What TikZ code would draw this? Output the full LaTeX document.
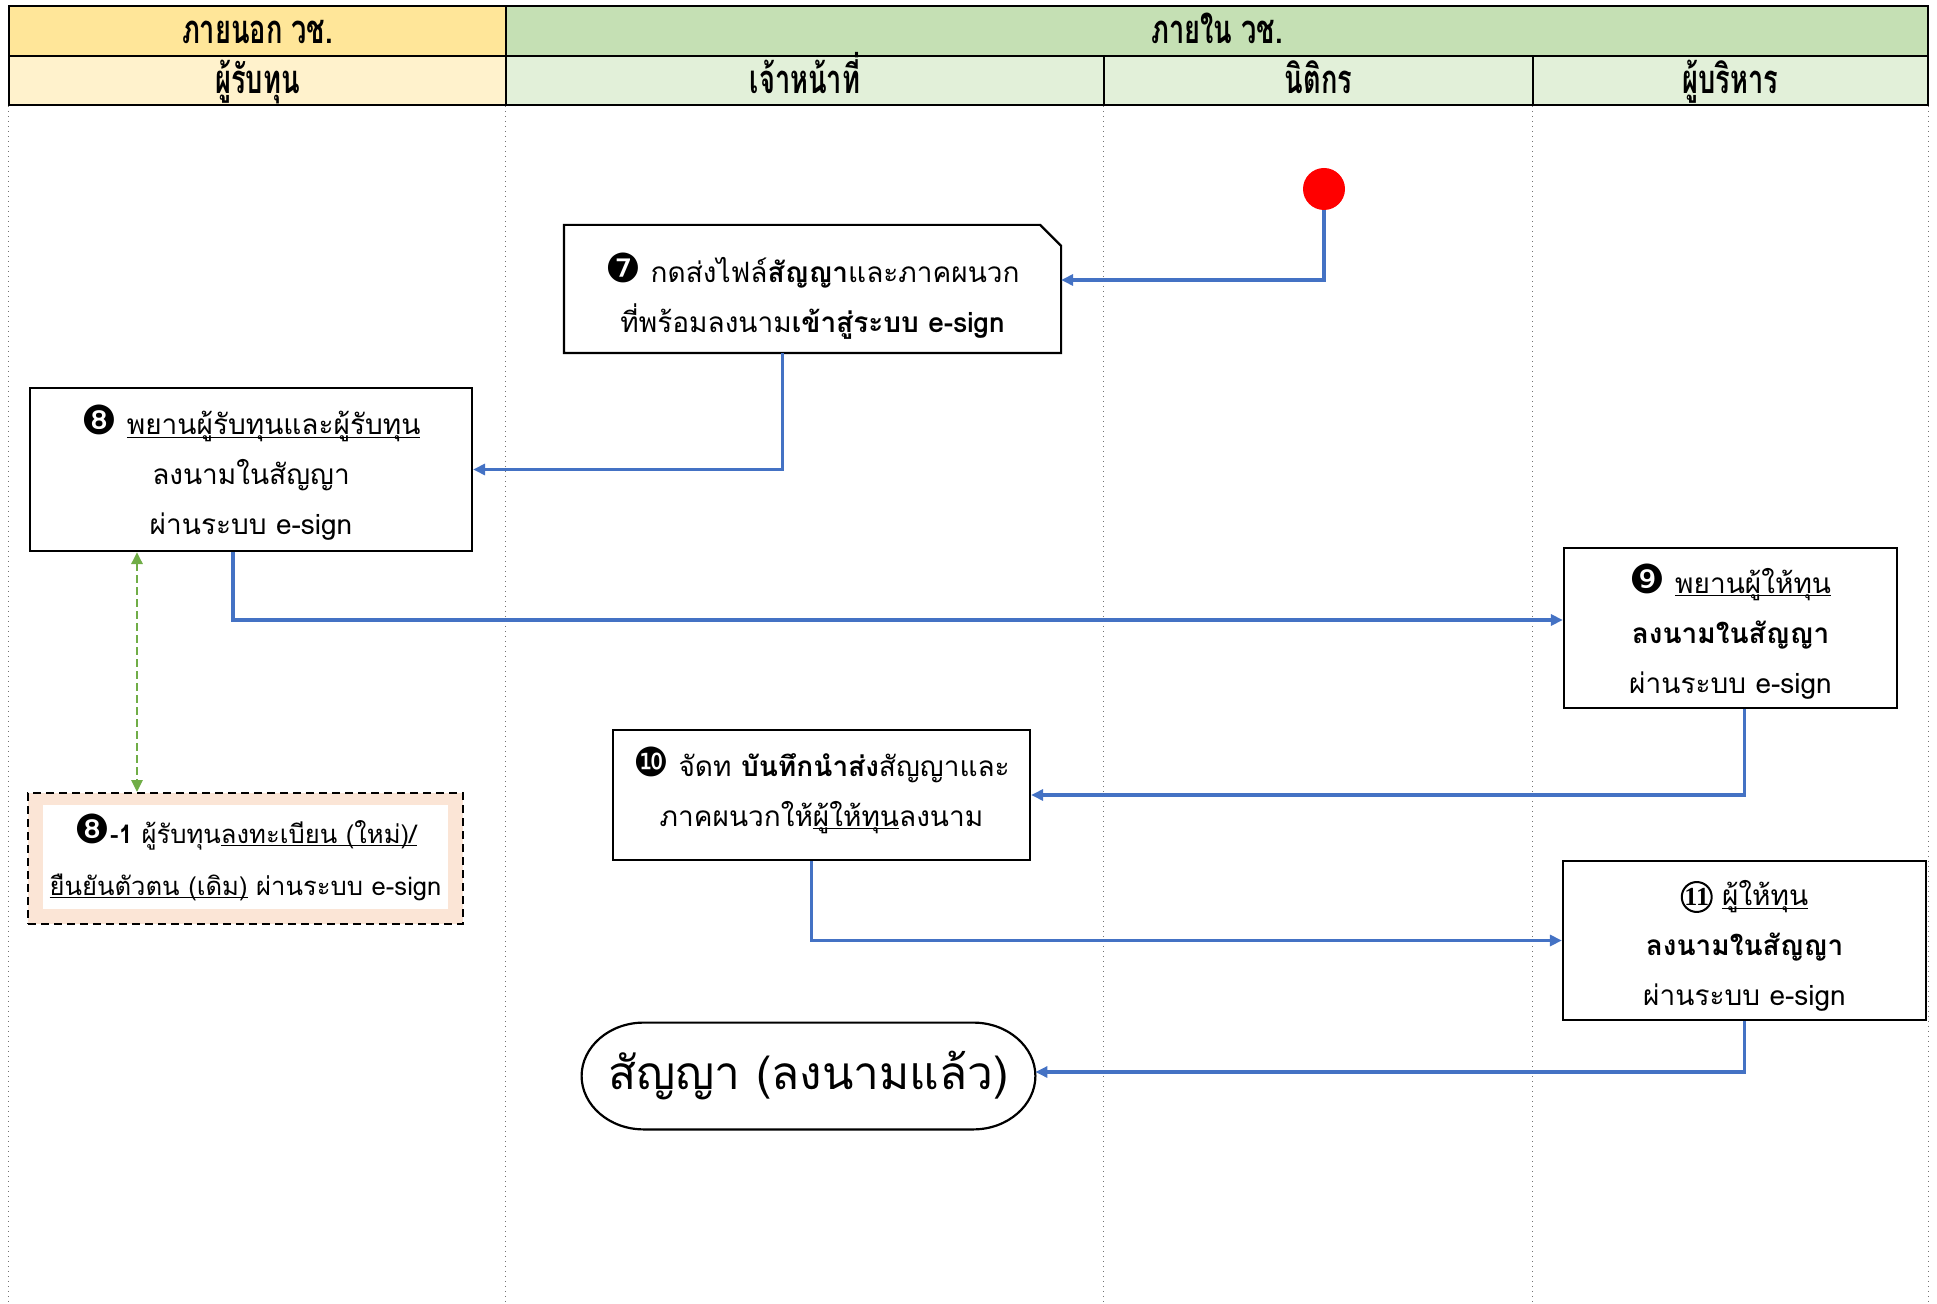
\documentclass[tikz,border=0pt]{standalone}
\usepackage{fontspec}
\setmainfont[Script=Thai]{Loma}
\newfontfamily\headfont[Script=Thai, FakeStretch=0.68]{Loma}
\newfontfamily\symfont{DejaVu Sans}
\newfontfamily\numfont{Liberation Serif}
\usepackage{tikz}
\usetikzlibrary{
    arrows.meta,
    positioning,
    calc
}
\definecolor{Hyel}{RGB}{255, 230, 153}
\definecolor{Hyellt}{RGB}{255, 242, 204}
\definecolor{Hgrn}{RGB}{197, 224, 180}
\definecolor{Hgrnlt}{RGB}{226, 240, 217}
\definecolor{Fblue}{RGB}{68, 114, 196}
\definecolor{Fgreen}{RGB}{112, 173, 71}
\definecolor{Fpeach}{RGB}{251, 229, 214}
\newcommand{\stepnum}[1]{{\symfont\fontsize{20}{24}\selectfont #1}}
\newcommand{\circnum}[1]{\tikz[baseline=(cn.base)]\node [circle, draw=black,
    line width=1pt, inner sep=0pt, minimum size=14.5pt,
    font=\numfont\fontsize{13}{13}\selectfont\bfseries] (cn) {#1};}
\newsavebox\ulbox
\newcommand{\uln}[1]{\sbox\ulbox{#1}\rlap{\rule[-1.6pt]{\wd\ulbox}{0.6pt}}\usebox\ulbox}
\newcommand{\tstrut}[1][18pt]{\rule{0pt}{#1}}
\newcommand{\bstrut}[1][8.5pt]{\rule[-#1]{0pt}{1pt}}
\tikzset{
    hcell/.style={
        rectangle, draw=black, line width=0.9pt, inner sep=0pt,
        text height=16pt, text depth=3.4pt,
        font=\headfont\fontsize{20}{22}\selectfont\bfseries, text=black
    },
    lane/.style={draw=black!55, line width=0.5pt, dotted},
    sbox/.style={
        rectangle, draw=black, line width=1.1pt, fill=white, text=black,
        align=center, font=\fontsize{14}{25}\selectfont, inner sep=3pt
    },
    boxline/.style={draw=black, line width=1.1pt},
    sframe/.style={
        rectangle, draw=black, line width=1pt, fill=Fpeach,
        dash pattern=on 4pt off 2.5pt, inner sep=0pt
    },
    sterm/.style={
        rectangle, draw=none, font=\fontsize{23}{28}\selectfont, inner sep=4pt
    },
    startdot/.style={circle, fill=red, minimum size=21pt, inner sep=0pt},
    flow/.style={-{Triangle[length=6pt, width=5.5pt]}, line width=1.7pt, Fblue},
    link/.style={{Triangle[length=6pt, width=5.5pt]}-{Triangle[length=6pt, width=5.5pt]},
        line width=1.4pt, Fgreen, dash pattern=on 4pt off 2pt},
}

\begin{document}
\begin{tikzpicture}[x=0.5pt, y=-0.5pt]
    \useasboundingbox (0,0) rectangle (1937,1304);

    % ── header ──────────────────────────────────────────
    \node [hcell, fill=Hyel, minimum width=248.5pt, minimum height=25pt]
        (hout) at (257.5,31) {ภายนอก วช.};
    \node [hcell, fill=Hgrn, minimum width=711pt, minimum height=25pt]
        (hin) at (1217,31) {ภายใน วช.};
    \node [hcell, fill=Hyellt, minimum width=248.5pt, minimum height=24.5pt]
        (lgrantee) at (257.5,80.5) {ผู้รับทุน};
    \node [hcell, fill=Hgrnlt, minimum width=299pt, minimum height=24.5pt]
        (lstaff) at (805,80.5) {เจ้าหน้าที่};
    \node [hcell, fill=Hgrnlt, minimum width=214.5pt, minimum height=24.5pt]
        (llegal) at (1318.5,80.5) {นิติกร};
    \node [hcell, fill=Hgrnlt, minimum width=197.5pt, minimum height=24.5pt]
        (lexec) at (1730.5,80.5) {ผู้บริหาร};

    % ── lanes ───────────────────────────────────────────
    \draw [lane] (lgrantee.south west) -- ++(0,1199);
    \draw [lane] (lstaff.south west) -- ++(0,1199);
    \draw [lane] (llegal.south west) -- ++(0,1199);
    \draw [lane] (lexec.south west) -- ++(0,1199);
    \draw [lane] (lexec.south east) -- ++(0,1199);

    % ── steps ───────────────────────────────────────────
    \node [startdot] (start) at (1324,189) {};

    \node [sbox, draw=none, minimum width=247.5pt, minimum height=63pt]
        (s7) at (812.5,289)
        {\tstrut[22pt]\stepnum{❼} กดส่งไฟล์\textbf{สัญญา}และภาคผนวก \\ ที่พร้อมลงนาม\textbf{เข้าสู่ระบบ e-sign}};
    \draw [boxline] (s7.south west) -- (s7.north west) -- ([xshift=-10.5pt]s7.north east)
        -- ([yshift=-10.5pt]s7.north east) -- (s7.south east) -- cycle;

    \node [sbox, minimum width=221pt, minimum height=81.5pt]
        (s8) at (251,469.5)
        {\tstrut\stepnum{❽} \uln{พยานผู้รับทุนและผู้รับทุน} \\ ลงนามในสัญญา \\ ผ่านระบบ e-sign};

    \node [sbox, minimum width=166.5pt, minimum height=80pt]
        (s9) at (1730.5,628)
        {\tstrut\stepnum{❾} \uln{พยานผู้ให้ทุน} \\ \textbf{ลงนามในสัญญา} \\ ผ่านระบบ e-sign};

    \node [sframe, minimum width=217.5pt, minimum height=65.5pt]
        (s81) at (245.5,858.5) {};
    \node [sbox, draw=none, minimum width=202.5pt, minimum height=52pt,
        font=\fontsize{12.8}{26}\selectfont]
        (s81t) at (245.5,857)
        {\stepnum{❽}\textbf{-1} ผู้รับทุน\uln{ลงทะเบียน (ใหม่)/} \\ \uln{ยืนยันตัวตน (เดิม)} ผ่านระบบ e-sign};

    \node [sbox, minimum width=208.5pt, minimum height=65pt]
        (s10) at (821.5,795)
        {\stepnum{❿} จัดท \textbf{บันทึกนำส่ง}สัญญาและ \\ ภาคผนวกให้\uln{ผู้ให้ทุน}ลงนาม\bstrut};

    \node [sbox, minimum width=181.5pt, minimum height=79.5pt]
        (s11) at (1744.5,940.5)
        {\tstrut\circnum{11} \uln{ผู้ให้ทุน} \\ \textbf{ลงนามในสัญญา} \\ ผ่านระบบ e-sign};

    \node [sterm, minimum width=226.5pt, minimum height=53pt]
        (fin) at (808.5,1076) {สัญญา (ลงนามแล้ว)};
    \draw [boxline] ([xshift=31pt]fin.north west) -- ([xshift=-31pt]fin.north east)
        .. controls +(17.1pt,0) and +(0,14.6pt) .. (fin.east)
        .. controls +(0,-14.6pt) and +(17.1pt,0) .. ([xshift=-31pt]fin.south east)
        -- ([xshift=31pt]fin.south west)
        .. controls +(-17.1pt,0) and +(0,-14.6pt) .. (fin.west)
        .. controls +(0,14.6pt) and +(-17.1pt,0) .. cycle;

    % ── arrows ──────────────────────────────────────────
    \draw [flow] (start.south) |- ([yshift=4.5pt]s7.east);
    \draw [flow] ([xshift=-15pt]s7.south) |- (s8.east);
    \draw [flow] ([xshift=-9pt]s8.south) |- ([yshift=4pt]s9.west);
    \draw [flow] ([xshift=7pt]s9.south) |- (s10.east);
    \draw [flow] ([xshift=-5pt]s10.south) |- (s11.west);
    \draw [flow] (s11.south) |- ([yshift=2pt]fin.east);

    \coordinate (g1) at ([xshift=-57pt]s8.south);
    \draw [link] (g1) -- (g1 |- s81.north);

\end{tikzpicture}
\end{document}
